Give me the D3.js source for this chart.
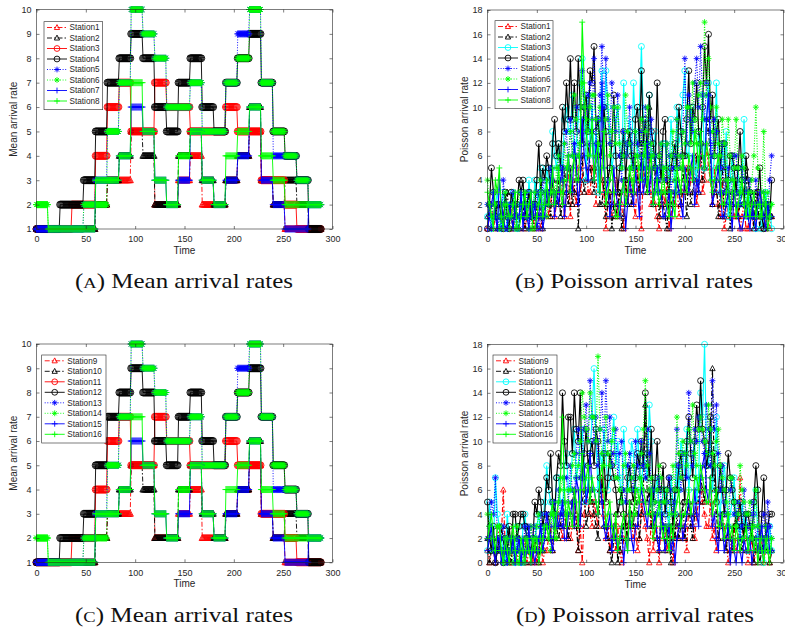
<!DOCTYPE html>
<html>
<head>
<meta charset="utf-8">
<script src="https://cdn.jsdelivr.net/npm/d3@7"></script>
<style>
  body { margin: 0; background: #fff; }
  svg { display: block; }
</style>
</head>
<body>
<svg id="fig" width="785" height="629"></svg>
<script>
// ---- data ----
const timeTicks = [0, 50, 100, 150, 200, 250, 300];
const meanTicks = [1, 2, 3, 4, 5, 6, 7, 8, 9, 10];
const poissonTicks = [0, 2, 4, 6, 8, 10, 12, 14, 16, 18];
const segLen = 12;      // each mean rate is held for 12 time units
const sampleStep = 2;   // Poisson samples shown every 2 time units

// mean arrival rate per 12-unit period (same for stations 1-8 and 9-16)
const meanS1 = [1,1,1,1,1,2,3,3,5,5,2,2,3,4,2,2,3,4,5,3,2,1,1,1];
const meanS2 = [1,1,1,1,1,2,3,4,5,4,2,2,4,5,3,2,3,4,6,3,2,3,2,1];
const meanS3 = [1,1,1,2,2,4,6,7,5,5,7,6,6,5,5,5,6,5,5,3,3,2,1,1];
const meanS4 = [1,1,2,2,3,5,7,8,9,8,6,5,7,8,6,5,7,8,9,7,5,4,3,1];
const meanS5 = [1,1,1,1,2,3,5,7,10,9,8,6,6,7,5,5,7,9,10,7,4,4,3,2];
const meanS6 = [2,1,1,1,2,2,5,7,10,9,8,6,6,7,5,5,7,8,10,7,5,4,3,2];
const meanS7 = [1,1,1,1,1,3,3,4,6,5,3,2,3,5,3,2,3,4,6,3,2,1,1,2];
const meanS8 = [2,1,1,1,1,3,3,4,7,5,3,2,4,5,3,2,4,5,6,4,3,2,2,2];

// Poisson arrivals, stations 1-8 (one value every 2 time units)
const poisS1 = [0,1,2,0,1,2, 1,2,0,1,1,0, 2,0,1,1,0,2, 1,0,1,2,2,1, 0,2,1,0,1,3, 3,1,2,4,1,2, 2,3,4,1,3,5, 1,4,3,2,5,3, 4,8,6,3,3,5, 5,2,7,6,4,3, 0,2,3,1,2,4, 1,3,2,0,4,2, 3,4,2,1,5,3, 0,5,4,3,6,2, 3,2,1,0,2,3, 2,4,0,1,3,2, 4,1,2,3,3,5, 3,4,5,6,2,4, 6,3,4,7,5,4, 2,5,3,2,1,4, 0,1,2,3,3,1, 1,2,0,1,2,0, 0,2,1,0,1,3, 2,1,0,1,1,0, 1];
const poisS2 = [1,2,0,1,2,0, 0,1,1,2,3,1, 1,0,2,1,0,2, 2,0,1,3,1,0, 1,2,3,1,0,2, 2,3,1,4,3,2, 4,1,2,5,3,2, 5,2,3,6,0,4, 6,3,4,7,5,4, 3,6,5,2,2,4, 1,2,3,0,2,1, 2,3,0,1,4,2, 5,2,3,6,4,3, 7,5,4,3,10,6, 2,5,4,1,3,2, 1,0,3,2,2,4, 4,3,2,5,3,1, 5,2,3,4,6,3, 7,4,5,9,8,6, 2,3,4,1,3,5, 1,2,3,0,2,3, 4,1,2,3,3,5, 1,3,2,0,3,2, 0,2,1,0,2,1, 1];
const poisS3 = [1,2,0,1,2,3, 1,0,3,2,0,1, 2,3,1,0,1,2, 3,2,1,4,2,1, 4,3,2,5,1,3, 5,4,3,8,6,5, 7,6,5,9,10,8, 8,11,6,7,9,12, 14,9,4,11,7,10, 6,8,3,9,13,7, 13,10,8,5,6,9, 10,7,5,12,7,6, 9,5,12,8,6,10, 15,9,4,7,11,6, 6,8,3,5,5,7, 7,5,4,9,6,3, 10,7,8,11,13,6, 6,10,9,5,4,8, 7,11,5,9,12,7, 4,6,12,5,3,7, 5,8,1,4,6,3, 3,5,2,4,9,2, 1,3,2,1,0,2, 2,0,1,3,1,2, 0];
const poisS4 = [0,2,5,3,1,2, 2,1,0,3,1,0, 3,2,1,2,4,3, 4,1,2,3,1,2, 2,4,7,3,5,4, 6,5,3,7,9,6, 7,5,10,8,12,9, 14,9,12,8,14,10, 7,10,11,8,13,12, 15,8,9,7,6,10, 8,4,5,7,11,6, 3,5,6,8,4,7, 8,6,5,9,10,7, 13,7,9,6,11,8, 7,5,12,6,4,8, 9,4,3,5,6,7, 5,10,8,6,6,9, 13,7,10,9,12,8, 7,10,15,12,16,9, 11,6,8,9,5,7, 7,3,4,6,6,5, 3,5,8,4,2,6, 4,3,2,1,1,3, 5,1,0,2,2,1, 4];
const poisS5 = [2,1,0,3,1,0, 1,0,4,2,0,1, 2,3,1,0,0,2, 1,2,3,0,1,2, 2,3,0,1,4,2, 3,2,5,4,2,3, 6,5,4,7,8,5, 9,6,7,10,6,8, 13,10,8,11,12,9, 14,7,9,11,15,10, 14,9,7,12,10,8, 11,6,4,8,6,7, 10,7,5,8,7,6, 8,5,10,7,6,9, 5,6,3,4,7,5, 4,7,6,3,5,6, 9,5,6,8,14,7, 11,9,8,12,14,10, 15,11,9,12,11,8, 6,9,8,5,5,7, 3,4,5,2,4,6, 6,3,2,5,4,3, 3,4,1,2,4,2, 2,1,3,2,1,4, 6];
const poisS6 = [4,2,1,3,2,1, 0,1,2,3,1,0, 1,2,0,1,3,2, 2,3,1,0,0,2, 3,1,2,4,1,3, 1,2,4,3,2,5, 6,4,3,7,5,6, 8,6,11,9,6,7, 12,10,9,8,10,11, 11,9,7,10,9,8, 9,11,6,8,10,7, 10,7,5,6,11,8, 7,5,4,8,6,5, 9,6,8,10,5,7, 6,5,4,6,7,3, 5,7,3,6,8,4, 9,6,5,8,7,10, 10,7,12,9,7,11, 12,9,17,11,14,10, 8,6,10,7,6,9, 7,4,9,6,4,5, 9,5,3,6,5,2, 2,3,4,6,10,5, 1,3,8,2,3,1, 2];
const poisS7 = [0,1,2,3,1,0, 4,2,1,0,0,2, 1,0,2,1,1,3, 0,2,1,0,3,1, 2,0,1,3,0,1, 3,2,4,5,1,3, 2,4,5,1,3,6, 4,3,7,5,2,4, 9,6,5,4,7,8, 4,7,6,3,12,5, 3,4,1,2,5,3, 2,1,3,4,0,2, 4,3,2,5,3,1, 6,3,4,7,3,5, 2,4,5,3,3,1, 1,2,3,0,2,3, 4,3,2,1,5,4, 3,5,6,2,4,3, 8,6,5,9,11,7, 2,3,4,5,3,1, 1,2,3,2,0,3, 2,1,0,0,1,2, 1,0,2,1,0,2, 3,2,1,0,2,1, 1];
const poisS8 = [3,2,1,0,4,3, 5,1,0,2,2,1, 1,2,3,0,0,1, 2,3,1,2,3,0, 0,1,2,3,1,2, 4,2,3,5,2,3, 5,3,2,4,4,6, 3,5,6,4,4,7, 17,12,8,6,6,9, 4,6,7,3,5,8, 2,3,4,5,3,1, 1,2,3,4,2,3, 5,4,3,6,6,4, 4,6,7,3,5,6, 2,3,4,2,3,5, 3,2,1,3,2,1, 5,4,3,6,4,3, 6,5,4,8,7,5, 8,6,5,7,6,4, 3,4,5,6,4,2, 2,3,4,1,3,4, 1,2,3,4,2,1, 3,1,2,3,1,2, 2,1,3,2,0,1, 2];

// Poisson arrivals, stations 9-16 (one value every 2 time units)
const poisS9  = [1,0,2,1,0,2, 3,2,6,1,1,0, 0,2,1,0,2,1, 1,2,0,1,1,0, 2,0,1,2,0,1, 1,2,3,1,2,3, 4,3,2,4,3,2, 2,3,5,4,1,3, 0,4,6,5,4,3, 5,4,3,6,7,4, 2,3,1,2,3,1, 3,1,0,2,2,3, 4,3,2,3,1,2, 5,4,3,2,0,4, 1,3,2,0,4,2, 3,1,2,3,0,2, 2,3,4,2,3,1, 5,4,3,2,4,5, 6,5,4,3,3,5, 2,3,1,2,4,3, 3,2,0,1,2,3, 1,2,7,3,2,1, 0,1,2,0,1,2, 1,2,0,1,2,0, 1];
const poisS10 = [2,0,1,2,0,1, 1,3,2,0,3,1, 0,2,1,1,2,0, 1,0,3,2,0,1, 2,1,0,3,1,2, 3,4,2,1,4,3, 2,3,5,4,3,2, 4,5,6,3,1,4, 5,6,3,4,6,5, 4,3,2,6,5,3, 3,2,1,0,2,4, 0,1,2,3,3,2, 5,4,3,6,4,2, 4,6,13,5,6,3, 3,4,2,1,5,3, 1,3,2,0,3,2, 4,2,3,5,2,4, 5,3,2,4,6,5, 7,6,5,8,9,10, 16,6,4,2,3,4, 2,1,3,2,1,3, 4,3,2,1,3,4, 1,2,3,0,2,1, 0,1,2,1,1,0, 1];
const poisS11 = [1,5,2,1,7,4, 3,2,1,0,4,2, 2,1,0,3,1,0, 3,4,2,1,1,2, 2,3,4,2,3,5, 8,6,5,4,3,7, 7,5,4,8,9,6, 6,9,11,7,8,10, 11,8,5,7,9,12, 16,10,6,9,8,11, 9,6,7,10,12,8, 10,7,5,11,8,6, 7,10,9,6,11,8, 6,9,8,7,13,10, 5,6,7,4,4,6, 6,4,3,7,5,4, 8,6,10,9,7,11, 6,8,9,10,5,7, 14,12,18,9,8,11, 6,8,12,5,4,7, 8,6,3,4,5,7, 4,3,2,5,3,4, 1,2,3,4,6,2, 2,1,0,2,1,3, 1];
const poisS12 = [5,2,1,3,0,1, 2,1,0,2,1,3, 1,4,4,2,3,4, 4,3,2,1,1,2, 5,4,6,5,3,4, 7,6,9,5,4,7, 9,8,14,10,8,12, 12,9,14,11,10,14, 7,9,11,8,9,10, 8,11,10,7,6,9, 5,7,9,8,7,6, 4,5,6,4,3,7, 8,6,5,7,9,8, 10,8,14,9,7,11, 5,7,10,6,6,8, 4,6,7,5,3,6, 6,8,9,7,5,10, 12,9,7,10,13,11, 15,11,10,8,9,12, 7,9,5,6,8,6, 4,6,9,7,6,5, 3,4,5,3,2,4, 4,3,2,5,8,6, 1,4,7,2,3,4, 4];
const poisS13 = [2,3,5,4,7,2, 1,2,3,1,0,2, 2,1,0,2,1,0, 1,3,2,1,3,2, 3,2,1,4,2,3, 4,3,2,5,5,3, 6,4,3,7,7,5, 8,6,5,9,11,7, 9,11,13,10,15,12, 10,12,8,11,14,9, 15,10,12,8,9,11, 7,9,10,6,5,8, 9,7,6,10,8,7, 10,8,7,11,9,6, 6,5,4,7,5,3, 3,5,7,6,4,5, 11,8,6,9,9,7, 14,10,8,11,10,12, 12,10,9,13,11,8, 15,11,13,9,6,8, 5,4,3,6,7,4, 4,5,2,3,6,4, 3,2,5,4,2,3, 1,3,4,2,5,3, 2];
const poisS14 = [4,3,2,1,1,3, 3,1,0,2,2,1, 1,0,2,3,0,1, 0,2,1,2,3,1, 2,3,4,2,1,3, 3,2,1,4,4,2, 5,6,7,5,4,6, 6,8,9,7,8,10, 14,12,11,10,14,12, 12,10,17,11,9,8, 12,9,8,10,11,7, 7,6,5,8,9,6, 6,7,8,4,5,7, 9,11,15,8,6,7, 4,5,6,8,7,5, 5,6,3,4,8,6, 12,9,7,10,9,8, 11,10,13,9,8,11, 12,11,10,9,13,11, 9,8,10,11,8,7, 6,5,4,7,7,5, 3,4,8,6,5,4, 4,5,2,3,6,3, 3,2,1,3,2,1, 2];
const poisS15 = [1,2,3,1,0,2, 2,0,1,2,0,1, 1,2,0,1,2,0, 2,0,1,3,0,1, 0,1,2,3,1,2, 4,3,2,1,3,4, 3,4,5,2,2,4, 4,5,3,7,6,3, 7,8,5,6,9,6, 6,5,4,7,5,3, 2,3,4,1,3,2, 1,2,3,0,2,1, 4,2,1,3,3,5, 6,5,4,3,5,6, 3,4,2,1,4,3, 1,2,3,1,2,0, 2,3,4,2,3,4, 5,4,3,6,4,3, 7,8,9,6,5,7, 3,4,2,1,4,3, 1,2,3,0,2,1, 0,2,1,0,2,1, 1,2,0,1,2,1, 2,3,1,2,3,1, 1];
const poisS16 = [2,3,4,2,1,3, 3,1,0,2,1,0, 2,3,1,0,0,2, 1,0,2,1,0,2, 1,2,0,1,2,3, 3,2,4,5,2,4, 5,7,12,6,3,5, 4,3,6,5,3,6, 9,6,7,8,5,7, 6,5,4,7,8,6, 3,4,5,3,2,4, 1,2,3,4,2,1, 5,3,4,6,6,5, 7,6,5,4,4,6, 2,3,4,5,3,2, 3,2,1,3,2,4, 5,6,3,4,4,5, 6,4,5,7,7,6, 8,7,6,5,5,7, 4,5,6,3,3,4, 2,3,4,2,3,1, 3,2,1,2,2,3, 1,2,3,1,2,0, 2,1,0,2,1,0, 2];

const namesTop = ["Station1","Station2","Station3","Station4","Station5","Station6","Station7","Station8"];
const namesBottom = ["Station9","Station10","Station11","Station12","Station13","Station14","Station15","Station16"];

// ---- styles ----
const RED = "#ff0000", BLACK = "#000000", BLUE = "#0000ff", GREEN = "#00ff00", CYAN = "#00ffff";
const dashDot = "5,2,1.5,2", dotted = "1,1.6";
function stylesFor(thirdColor) {
  return [
    {color: RED,   dash: dashDot, mk: "tri"},
    {color: BLACK, dash: dashDot, mk: "tri"},
    {color: thirdColor, dash: null, mk: "circle"},
    {color: BLACK, dash: null, mk: "circle"},
    {color: BLUE,  dash: dotted, mk: "star"},
    {color: GREEN, dash: dotted, mk: "star"},
    {color: BLUE,  dash: null, mk: "plus"},
    {color: GREEN, dash: null, mk: "plus"}
  ];
}

function markerPath(type, s) {
  if (type === "tri") return `M0,${-s}L${s * 0.9},${s * 0.7}L${-s * 0.9},${s * 0.7}Z`;
  if (type === "circle") return `M${-s},0a${s},${s} 0 1,0 ${2 * s},0a${s},${s} 0 1,0 ${-2 * s},0`;
  if (type === "star") {
    const d = s * 0.7;
    return `M${-s},0H${s}M0,${-s}V${s}M${-d},${-d}L${d},${d}M${-d},${d}L${d},${-d}`;
  }
  return `M${-s},0H${s}M0,${-s}V${s}`;
}

function stepSeries(seg) {
  const pts = [];
  for (let t = 0; t <= seg.length * segLen; t++) {
    pts.push([t, seg[Math.min(Math.floor(t / segLen), seg.length - 1)]]);
  }
  return pts;
}
function sampleSeries(vals) {
  return vals.map((v, i) => [i * sampleStep, v]);
}

const svg = d3.select("#fig");
const axisColor = "#262626";
const sansFont = "'Liberation Sans', Arial, Helvetica, sans-serif";

function drawPanel(o) {
  const x = d3.scaleLinear().domain([0, 300]).range([o.x0, o.x1]);
  const y = d3.scaleLinear().domain(o.yDomain).range([o.y1, o.y0]);
  const g = svg.append("g");
  const line = d3.line().x(d => x(d[0])).y(d => y(d[1]));

  o.series.forEach((pts, i) => {
    const st = o.styles[i];
    g.append("path")
      .attr("d", line(pts))
      .attr("fill", "none")
      .attr("stroke", st.color)
      .attr("stroke-width", o.lineW)
      .attr("stroke-dasharray", st.dash);
    const mp = markerPath(st.mk, o.mSize);
    g.append("g").selectAll("path").data(pts).join("path")
      .attr("transform", d => `translate(${x(d[0])},${y(d[1])})`)
      .attr("d", mp)
      .attr("fill", "none")
      .attr("stroke", st.color)
      .attr("stroke-width", o.mStroke);
  });

  // box and ticks
  g.append("rect")
    .attr("x", o.x0).attr("y", o.y0)
    .attr("width", o.x1 - o.x0).attr("height", o.y1 - o.y0)
    .attr("fill", "none").attr("stroke", axisColor).attr("stroke-width", 0.6);

  const styleAxis = sel => {
    sel.select(".domain").remove();
    sel.selectAll("line").attr("stroke", axisColor).attr("stroke-width", 0.6);
    sel.selectAll("text").attr("fill", axisColor).attr("font-family", sansFont).attr("font-size", 9);
  };
  g.append("g").attr("transform", `translate(0,${o.y1})`)
    .call(d3.axisBottom(x).tickValues(timeTicks).tickSize(-3).tickPadding(7)).call(styleAxis);
  g.append("g").attr("transform", `translate(0,${o.y0})`)
    .call(d3.axisTop(x).tickValues(timeTicks).tickSize(-3).tickFormat("")).call(styleAxis);
  g.append("g").attr("transform", `translate(${o.x0},0)`)
    .call(d3.axisLeft(y).tickValues(o.yTicks).tickSize(-3).tickPadding(5)).call(styleAxis);
  g.append("g").attr("transform", `translate(${o.x1},0)`)
    .call(d3.axisRight(y).tickValues(o.yTicks).tickSize(-3).tickFormat("")).call(styleAxis);

  // axis labels
  g.append("text")
    .attr("x", (o.x0 + o.x1) / 2).attr("y", o.y1 + 25)
    .attr("text-anchor", "middle").attr("font-family", sansFont).attr("font-size", 10)
    .attr("fill", axisColor).text("Time");
  g.append("text")
    .attr("transform", `translate(${o.yLabelX},${(o.y0 + o.y1) / 2}) rotate(-90)`)
    .attr("text-anchor", "middle").attr("font-family", sansFont).attr("font-size", 10)
    .attr("fill", axisColor).text(o.yLabel);

  // legend
  const lg = g.append("g").attr("transform", `translate(${o.x0 + o.legDx},${o.y0 + o.legDy})`);
  lg.append("rect").attr("width", o.legW).attr("height", 88)
    .attr("fill", "#fff").attr("stroke", axisColor).attr("stroke-width", 0.6);
  o.names.forEach((name, i) => {
    const st = o.styles[i];
    const ry = 5.8 + i * 10.5;
    lg.append("line").attr("x1", 3).attr("x2", 23).attr("y1", ry).attr("y2", ry)
      .attr("stroke", st.color).attr("stroke-width", 0.9).attr("stroke-dasharray", st.dash);
    lg.append("path").attr("transform", `translate(13,${ry})`).attr("d", markerPath(st.mk, 2.9))
      .attr("fill", "none").attr("stroke", st.color).attr("stroke-width", 0.9);
    lg.append("text").attr("x", 25.5).attr("y", ry).attr("dy", "0.35em")
      .attr("font-family", sansFont).attr("font-size", 8.2).attr("fill", axisColor).text(name);
  });
}

function caption(cx, by, letter, rest, width) {
  const t = svg.append("text").attr("x", cx).attr("y", by).attr("text-anchor", "middle")
    .attr("font-family", "'Liberation Serif', 'DejaVu Serif', serif").attr("font-size", 21)
    .attr("fill", "#111").attr("textLength", width).attr("lengthAdjust", "spacingAndGlyphs");
  t.append("tspan").text("(");
  t.append("tspan").attr("font-size", 15.5).text(letter);
  t.append("tspan").text(") " + rest);
}

const meansTop = [meanS1, meanS2, meanS3, meanS4, meanS5, meanS6, meanS7, meanS8];
const poisTop = [poisS1, poisS2, poisS3, poisS4, poisS5, poisS6, poisS7, poisS8];
const poisBottom = [poisS9, poisS10, poisS11, poisS12, poisS13, poisS14, poisS15, poisS16];

drawPanel({x0: 36.5, x1: 332.5, y0: 9.5, y1: 229, yDomain: [1, 10], yTicks: meanTicks,
  series: meansTop.map(stepSeries), styles: stylesFor(RED), mSize: 3.5, mStroke: 0.9, lineW: 0.9,
  yLabel: "Mean arrival rate", yLabelX: 16.5, names: namesTop, legDx: 7.5, legDy: 12.2, legW: 58.7});
drawPanel({x0: 487.5, x1: 783.5, y0: 10, y1: 228.7, yDomain: [0, 18], yTicks: poissonTicks,
  series: poisTop.map(sampleSeries), styles: stylesFor(CYAN), mSize: 3, mStroke: 0.85, lineW: 1.15,
  yLabel: "Poisson arrival rate", yLabelX: 468, names: namesTop, legDx: 7.5, legDy: 10.7, legW: 58});
drawPanel({x0: 36.5, x1: 332.5, y0: 344, y1: 562.3, yDomain: [1, 10], yTicks: meanTicks,
  series: meansTop.map(stepSeries), styles: stylesFor(RED), mSize: 3.5, mStroke: 0.9, lineW: 0.9,
  yLabel: "Mean arrival rate", yLabelX: 16.5, names: namesBottom, legDx: 5.2, legDy: 11, legW: 64.3});
drawPanel({x0: 487.5, x1: 783.5, y0: 344.3, y1: 562.7, yDomain: [0, 18], yTicks: poissonTicks,
  series: poisBottom.map(sampleSeries), styles: stylesFor(CYAN), mSize: 3, mStroke: 0.85, lineW: 1.15,
  yLabel: "Poisson arrival rate", yLabelX: 468, names: namesBottom, legDx: 5.5, legDy: 10.7, legW: 64});

caption(184, 288, "A", "Mean arrival rates", 218);
caption(634, 288, "B", "Poisson arrival rates", 238);
caption(184, 622, "C", "Mean arrival rates", 218);
caption(635, 622, "D", "Poisson arrival rates", 238);
</script>
</body>
</html>
